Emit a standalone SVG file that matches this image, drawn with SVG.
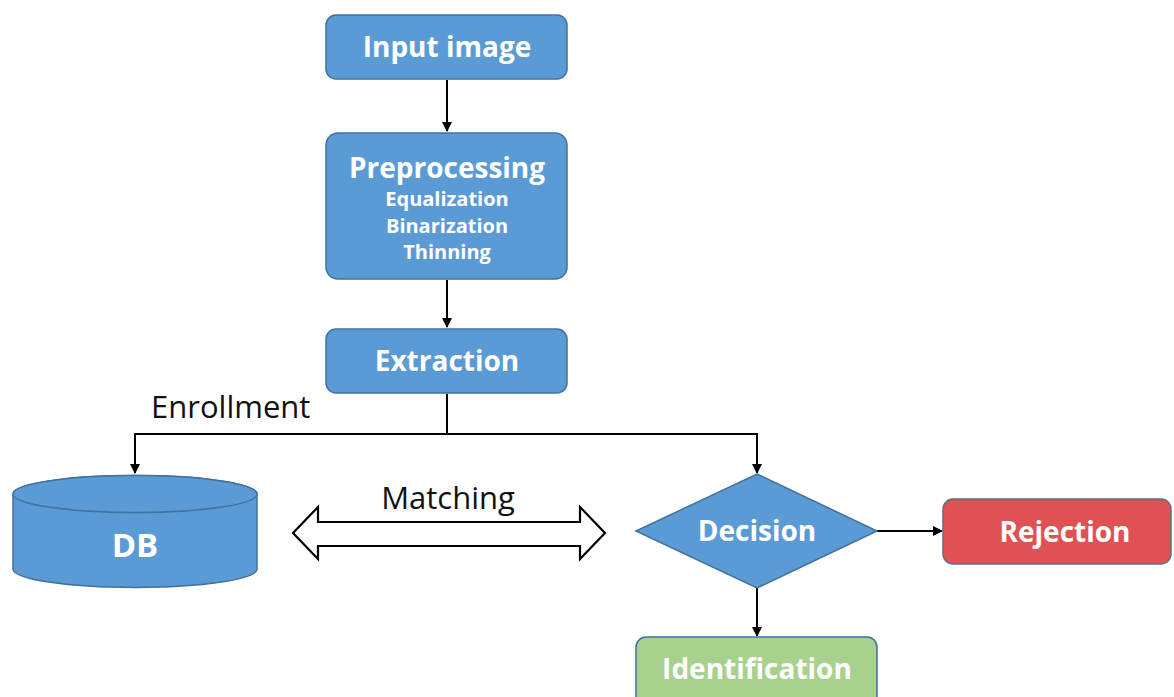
<svg xmlns="http://www.w3.org/2000/svg" width="1174" height="697" viewBox="0 0 1174 697">
  <defs>
    <marker id="arrow" viewBox="0 0 10 10" refX="9" refY="5" markerWidth="5" markerHeight="5" orient="auto-start-reverse">
      <path d="M0,0 L10,5 L0,10 z" fill="#000"/>
    </marker>
  </defs>
  <style>
    .box { fill: #5B9BD5; stroke: #41719C; stroke-width: 1.5; }
    .red { fill: #DE5254; stroke: #5E6F89; stroke-width: 1.5; }
    .green { fill: #A9D18E; stroke: #41719C; stroke-width: 1.5; }
    .title { font-family: "Open Sans", "Noto Sans", sans-serif; font-weight: bold; font-size: 28px; fill: #fff; text-anchor: middle; }
    .sub { font-family: "Open Sans", "Noto Sans", sans-serif; font-weight: bold; font-size: 20px; fill: #fff; text-anchor: middle; }
    .label { font-family: "Open Sans", "Noto Sans", sans-serif; font-size: 31px; fill: #111; }
    .conn { fill: none; stroke: #000; stroke-width: 2; }
  </style>
  <rect width="1174" height="697" fill="#fff"/>

  <g id="connectors">
    <path class="conn" d="M447,80 V131" marker-end="url(#arrow)"/>
    <path class="conn" d="M447,280 V327" marker-end="url(#arrow)"/>
    <path class="conn" d="M447,394 V434 H135 V473" marker-end="url(#arrow)"/>
    <path class="conn" d="M447,434 H757 V473" marker-end="url(#arrow)"/>
    <path class="conn" d="M877,531 H942" marker-end="url(#arrow)"/>
    <path class="conn" d="M757,588 V636" marker-end="url(#arrow)"/>
    <!-- double-headed block arrow -->
    <path d="M293,533 L318,507 L318,522 L580,522 L580,507 L605,533 L580,559 L580,546 L318,546 L318,559 Z" fill="#fff" stroke="#000" stroke-width="2.2" stroke-linejoin="miter"/>
    <text class="label" x="448" y="509" text-anchor="middle">Matching</text>
    <text class="label" x="151" y="418">Enrollment</text>
  </g>

  <g id="input-image">
    <rect class="box" x="326" y="15" width="241" height="64" rx="10"/>
    <text class="title" x="447" y="57">Input image</text>
  </g>

  <g id="preprocessing">
    <rect class="box" x="326" y="133" width="241" height="146" rx="12"/>
    <text class="title" x="447" y="178">Preprocessing</text>
    <text class="sub" x="447" y="206">Equalization</text>
    <text class="sub" x="447" y="233">Binarization</text>
    <text class="sub" x="447" y="259">Thinning</text>
  </g>

  <g id="extraction">
    <rect class="box" x="326" y="329" width="241" height="64" rx="10"/>
    <text class="title" x="447" y="371">Extraction</text>
  </g>

  <g id="db">
    <path class="box" d="M13,494 V569 A122,18.5 0 0 0 257,569 V494 A122,18.5 0 0 0 13,494 Z"/>
    <ellipse class="box" cx="135" cy="494" rx="122" ry="18.5"/>
    <text class="title" x="135" y="557" style="font-size:33px">DB</text>
  </g>

  <g id="decision">
    <polygon class="box" points="757,474 877,531 757,588 636,531"/>
    <text class="title" x="757" y="541">Decision</text>
  </g>

  <g id="rejection">
    <rect class="red" x="943" y="499" width="228" height="65" rx="10"/>
    <text class="title" x="1065" y="542">Rejection</text>
  </g>

  <g id="identification">
    <rect class="green" x="636" y="637" width="241" height="75" rx="10"/>
    <text class="title" x="757" y="679">Identification</text>
  </g>
</svg>
